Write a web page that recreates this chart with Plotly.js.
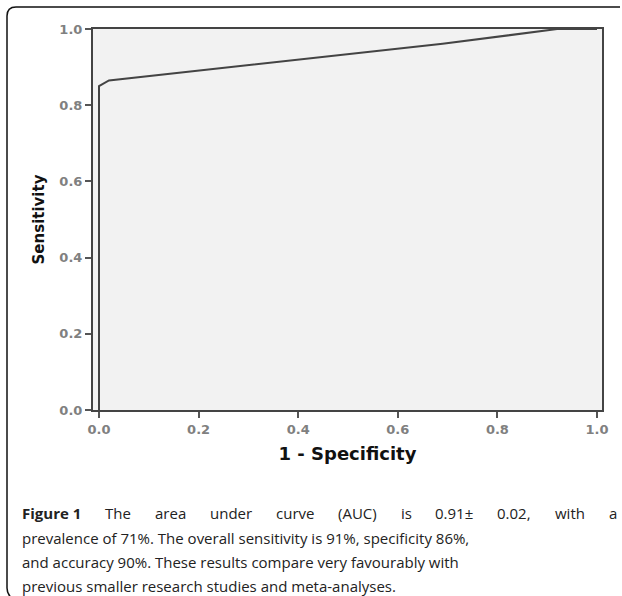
<!DOCTYPE html>
<html>
<head>
<meta charset="utf-8">
<script src="https://cdn.plot.ly/plotly-3.0.1.min.js"></script>
<style>
  html, body { margin: 0; padding: 0; background: #fff; }
  #chart { width: 622px; height: 596px; }
</style>
</head>
<body>
<div id="chart"></div>
<script>
// ROC curve
const falsePositiveRate = [0, 0, 0.02, 0.32, 0.69, 0.92, 1.0];
const sensitivity = [0, 0.85, 0.865, 0.908, 0.961, 1.0, 1.0];

const tickValues = [0, 0.2, 0.4, 0.6, 0.8, 1.0];
const tickLabels = ['0.0', '0.2', '0.4', '0.6', '0.8', '1.0'];

const xTitle = '1 - Specificity';
const yTitle = 'Sensitivity';

const captionLead = 'Figure 1';
const captionFirstWords = ['The', 'area', 'under', 'curve', '(AUC)', 'is', '0.91±', '0.02,', 'with', 'a'];
const captionLines = [
  'prevalence of 71%. The overall sensitivity is 91%, specificity 86%,',
  'and accuracy 90%. These results compare very favourably with',
  'previous smaller research studies and meta-analyses.'
];

// layout geometry (pixels)
const W = 622, H = 596;
const M = { l: 93, r: 20, t: 29, b: 186 };
const PW = W - M.l - M.r, PH = H - M.t - M.b;
const px = x => (x - M.l) / PW;
const py = y => (H - M.b - y) / PH;

const capSize = 15;
const capFamily = 'Open Sans';
const captionFont = { family: capFamily + ', Noto Sans, sans-serif', size: capSize, color: '#222' };

// justify first caption line between x=20 and x=615 using measured word widths
const cv = document.createElement('canvas').getContext('2d');
const words1 = [{ t: captionLead, b: true }].concat(captionFirstWords.map(w => ({ t: w, b: false })));
const widths = words1.map(w => {
  cv.font = (w.b ? 'bold ' : '') + capSize + 'px "' + capFamily + '"';
  return cv.measureText(w.t).width;
});
const lineStart = 20, lineEnd = 615;
const totalW = widths.reduce((a, b) => a + b, 0);
const gap = (lineEnd - lineStart - totalW) / (words1.length - 1);

const lineY = [513, 537.5, 562, 586];
const annotations = [];
let cx = lineStart;
words1.forEach((w, i) => {
  annotations.push({
    xref: 'paper', yref: 'paper', x: px(cx), y: py(lineY[0]), xanchor: 'left', yanchor: 'middle',
    text: w.b ? '<b>' + w.t + '</b>' : w.t, showarrow: false, font: captionFont
  });
  cx += widths[i] + gap;
});
captionLines.forEach((line, i) => {
  annotations.push({
    xref: 'paper', yref: 'paper', x: px(20), y: py(lineY[i + 1]), xanchor: 'left', yanchor: 'middle',
    text: line, showarrow: false, font: captionFont
  });
});

// outer figure frame (left and top edges with rounded corners)
const frame = {
  type: 'path', xref: 'paper', yref: 'paper',
  path: `M ${px(620)} ${py(7)} L ${px(16)} ${py(7)} Q ${px(7)} ${py(7)} ${px(7)} ${py(16)} L ${px(7)} ${py(588)} Q ${px(7)} ${py(595)} ${px(13)} ${py(599)}`,
  line: { color: '#111', width: 1.5 }
};

const trace = {
  x: falsePositiveRate, y: sensitivity, type: 'scatter', mode: 'lines',
  line: { color: '#444', width: 2 }, hoverinfo: 'skip', cliponaxis: false
};

const axisCommon = {
  showline: true, linecolor: '#444', linewidth: 2, mirror: true,
  showgrid: false, zeroline: false,
  ticks: 'outside', ticklen: 6, tickwidth: 2, tickcolor: '#555',
  tickvals: tickValues, ticktext: tickLabels,
  tickfont: { family: 'DejaVu Sans, sans-serif', size: 13, color: '#808080', weight: 'bold' },
  fixedrange: true
};

const titleFont = { family: 'DejaVu Sans, sans-serif', color: '#111', weight: 'bold' };

const layout = {
  width: W, height: H,
  margin: M,
  paper_bgcolor: '#ffffff',
  plot_bgcolor: '#f2f2f2',
  showlegend: false,
  xaxis: Object.assign({}, axisCommon, {
    range: [-6 / 498, 1 + 5 / 498],
    title: { text: xTitle, font: Object.assign({ size: 18 }, titleFont), standoff: 12 }
  }),
  yaxis: Object.assign({}, axisCommon, {
    range: [0, 1],
    title: { text: yTitle, font: Object.assign({ size: 15 }, titleFont), standoff: 11 }
  }),
  shapes: [frame],
  annotations: annotations
};

Plotly.newPlot('chart', [trace], layout, { displayModeBar: false, staticPlot: true });
</script>
</body>
</html>
